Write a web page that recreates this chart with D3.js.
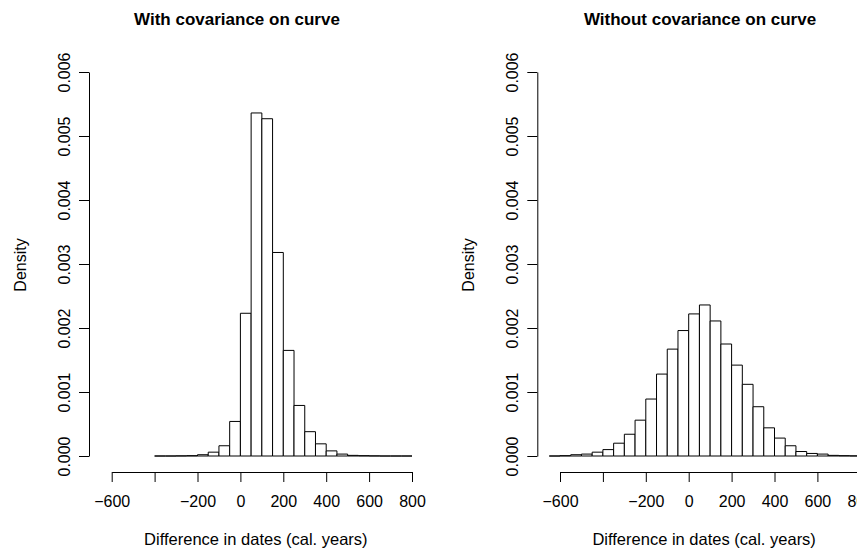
<!DOCTYPE html>
<html>
<head>
<meta charset="utf-8">
<script src="https://cdn.jsdelivr.net/npm/d3@7"></script>
<style>
  body { margin: 0; background: #fff; }
  text { font-family: "Liberation Sans", Arial, sans-serif; fill: #000; }
</style>
</head>
<body>
<div id="chart"></div>
<script>
// Histogram breaks (cal. years) and densities
const leftBreaks = [-400, -350, -300, -250, -200, -150, -100, -50, 0, 50, 100, 150, 200,
  250, 300, 350, 400, 450, 500, 550, 600, 650, 700, 750, 800];
const leftDensity = [0, 0, 0.000002, 0.000005, 0.00002, 0.00006, 0.00016, 0.00054, 0.00223,
  0.00536, 0.00527, 0.00318, 0.00165, 0.00079, 0.00038, 0.00019, 0.00008, 0.00003, 0.00001,
  0.000005, 0.000002, 0, 0, 0];

const rightBreaks = [-650, -600, -550, -500, -450, -400, -350, -300, -250, -200, -150, -100,
  -50, 0, 50, 100, 150, 200, 250, 300, 350, 400, 450, 500, 550, 600, 650, 700, 750, 800, 850];
const rightDensity = [0, 0.000005, 0.00002, 0.00003, 0.00006, 0.0001, 0.0002, 0.00034,
  0.00056, 0.00089, 0.00128, 0.00167, 0.00196, 0.00222, 0.00236, 0.00211, 0.00175, 0.00142,
  0.00112, 0.00077, 0.00044, 0.00028, 0.00016, 0.00007, 0.00004, 0.00003, 0.00001, 0.000005,
  0.000002, 0];

const xTicks = [-600, -400, -200, 0, 200, 400, 600, 800];
const xHidden = [-400]; // R drops this label because it overlaps
const yTicks = [0, 0.001, 0.002, 0.003, 0.004, 0.005, 0.006];

const titles = ["With covariance on curve", "Without covariance on curve"];
const xLabel = "Difference in dates (cal. years)";
const yLabel = "Density";

const width = 857;
const height = 552;

const svg = d3.select("#chart")
  .append("svg")
  .attr("width", width)
  .attr("height", height);

// pixel layout of each panel
const panels = [
  { breaks: leftBreaks, dens: leftDensity, title: titles[0], yAxisX: 89, x0: 111.7, titleX: 237 },
  { breaks: rightBreaks, dens: rightDensity, title: titles[1], yAxisX: 537.3, x0: 560, titleX: 700 }
];
const pxPer100 = 21.45;
const yTop = 72, yBase = 456, xAxisY = 472;

function fmt(v) {
  if (xHidden.includes(v)) return "";
  return v < 0 ? "\u2212" + Math.abs(v) : String(v);
}

panels.forEach(p => {
  const g = svg.append("g");

  const x = d3.scaleLinear()
    .domain([-600, 800])
    .range([p.x0, p.x0 + pxPer100 * 14]);
  const y = d3.scaleLinear()
    .domain([0, 0.006])
    .range([yBase, yTop]);

  const bins = p.dens.map((d, i) => ({ x0: p.breaks[i], x1: p.breaks[i + 1], d: d }));

  // bars as paths so that empty bins still show as a line on the baseline
  g.selectAll(".bar")
    .data(bins)
    .enter().append("path")
    .attr("class", "bar")
    .attr("d", b => `M${x(b.x0)},${y(0)}V${y(b.d)}H${x(b.x1)}V${y(0)}Z`)
    .attr("fill", "#fff")
    .attr("stroke", "#000")
    .attr("stroke-width", 1);

  // X os
  const xa = g.append("g")
    .attr("transform", `translate(0,${xAxisY})`)
    .call(d3.axisBottom(x).tickValues(xTicks).tickFormat(fmt).tickSize(10).tickSizeOuter(0).tickPadding(14));
  xa.selectAll("text").style("font-size", "16px").attr("font-family", null);
  xa.selectAll("path, line").attr("stroke", "#000");

  // Y os
  const ya = g.append("g")
    .attr("transform", `translate(${p.yAxisX},0)`)
    .call(d3.axisLeft(y).tickValues(yTicks).tickFormat(d3.format(".3f")).tickSize(10).tickSizeOuter(0));
  ya.selectAll("path, line").attr("stroke", "#000");
  ya.selectAll("text")
    .style("font-size", "16px")
    .attr("font-family", null)
    .attr("x", null)
    .attr("dy", null)
    .attr("text-anchor", "middle")
    .attr("transform", "translate(-19,0) rotate(-90)");

  // title
  g.append("text")
    .attr("x", p.titleX)
    .attr("y", 25)
    .attr("text-anchor", "middle")
    .style("font-size", "17px")
    .style("font-weight", "bold")
    .text(p.title);

  // X oznaka
  g.append("text")
    .attr("x", (x(-600) + x(800)) / 2 - 6)
    .attr("y", 545)
    .attr("text-anchor", "middle")
    .style("font-size", "16.5px")
    .text(xLabel);

  // Y oznaka
  g.append("text")
    .attr("transform", `translate(${p.yAxisX - 63},${(yTop + yBase) / 2 + 1}) rotate(-90)`)
    .attr("text-anchor", "middle")
    .style("font-size", "16px")
    .text(yLabel);
});
</script>
</body>
</html>
